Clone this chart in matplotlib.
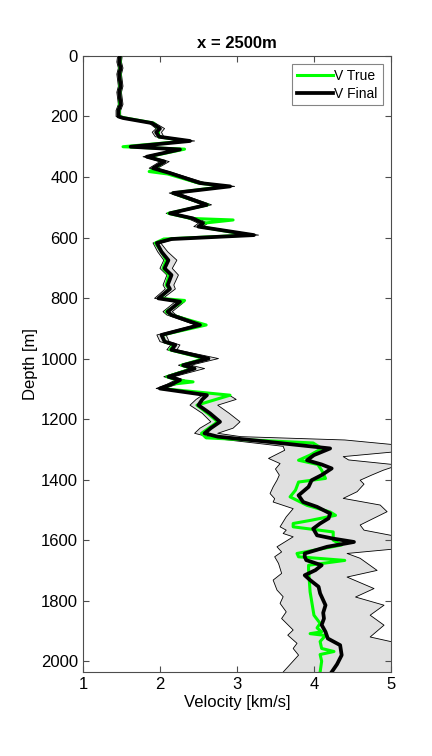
import matplotlib

matplotlib.use("Agg")
import matplotlib.pyplot as plt  # noqa: E402

plt.rcParams["font.family"] = ["Liberation Sans", "DejaVu Sans"]

# V Final ― 深度ノードと速度 [km/s]
depth = [0, 20, 40, 60, 80, 100, 120, 140, 160, 180, 200, 205, 222, 240, 252, 267,
         281, 300, 309, 333, 349, 371, 387, 420, 431, 453, 464, 492, 520, 537, 553,
         564, 592, 605, 618, 647, 675, 702, 724, 757, 770, 801, 812, 845, 856, 889,
         922, 944, 955, 971, 1000, 1022, 1033, 1060, 1071, 1085, 1099, 1121, 1135,
         1154, 1181, 1209, 1230, 1247, 1258, 1275, 1297, 1319, 1336, 1350, 1363,
         1385, 1402, 1424, 1452, 1474, 1490, 1512, 1528, 1545, 1562, 1584, 1595,
         1606, 1622, 1644, 1655, 1666, 1683, 1699, 1716, 1732, 1754, 1776, 1815,
         1840, 1859, 1880, 1903, 1925, 1947, 1980, 2010, 2036]
v_final = [1.48, 1.47, 1.49, 1.47, 1.48, 1.49, 1.47, 1.48, 1.49, 1.46, 1.46, 1.52,
           1.90, 2.00, 1.95, 1.99, 2.39, 1.62, 2.26, 1.83, 2.06, 1.91, 2.13, 2.52,
           2.91, 2.17, 2.30, 2.61, 2.13, 2.43, 2.56, 2.50, 3.22, 2.15, 1.96, 2.02,
           2.11, 2.06, 2.15, 2.10, 2.13, 1.98, 2.26, 2.10, 2.15, 2.52, 2.02, 2.06,
           2.20, 2.15, 2.63, 2.30, 2.45, 2.11, 2.26, 2.15, 2.00, 2.61, 2.55, 2.50,
           2.65, 2.78, 2.66, 2.58, 2.75, 3.40, 4.21, 4.00, 3.91, 4.10, 4.23, 4.10,
           3.97, 3.93, 3.80, 3.86, 4.04, 4.21, 4.19, 4.08, 3.99, 4.04, 4.25, 4.52,
           4.17, 3.88, 3.88, 3.90, 4.10, 4.02, 3.88, 3.95, 4.06, 4.08, 4.15, 4.12,
           4.13, 4.10, 4.15, 4.18, 4.34, 4.36, 4.30, 4.23]

# 不確かさの帯 ― 上限 (浅部は V Final に沿う)
depth_hi = depth[:65] + [1269, 1286, 1307, 1324, 1335, 1352, 1369, 1385, 1402,
                         1415, 1440, 1462, 1484, 1506, 1550, 1567, 1589, 1628,
                         1644, 1660, 1700, 1722, 1760, 1788, 1815, 1848, 1881,
                         1920, 1941, 2036]
v_high = [1.51, 1.50, 1.52, 1.50, 1.51, 1.52, 1.50, 1.51, 1.52, 1.49, 1.49, 1.56,
          1.94, 2.06, 2.02, 2.05, 2.45, 1.67, 2.31, 1.88, 2.12, 1.97, 2.18, 2.60,
          2.97, 2.23, 2.36, 2.67, 2.18, 2.50, 2.62, 2.56, 3.28, 2.20, 2.01, 2.10,
          2.22, 2.16, 2.24, 2.18, 2.20, 2.04, 2.32, 2.16, 2.21, 2.58, 2.08, 2.12,
          2.26, 2.22, 2.76, 2.40, 2.58, 2.18, 2.32, 2.22, 2.06, 2.90, 2.99, 2.75,
          2.90, 3.04, 2.95, 2.75, 3.05,
          4.40, 5.10, 5.10, 4.38, 4.45, 5.10, 4.90, 4.75, 4.60, 4.65, 4.56, 4.38,
          4.86, 4.95, 4.60, 4.65, 5.10, 5.10, 4.43, 4.60, 4.82, 4.43, 4.78, 4.54,
          4.91, 4.73, 4.91, 4.73, 5.10, 5.10]

# 不確かさの帯 ― 下限
depth_lo = depth[:65] + [1265, 1290, 1303, 1330, 1347, 1365, 1385, 1402, 1424,
                         1446, 1463, 1474, 1496, 1523, 1556, 1567, 1578, 1589,
                         1622, 1639, 1655, 1677, 1710, 1732, 1765, 1787, 1809,
                         1837, 1859, 1897, 1914, 1941, 1958, 1980, 2036]
v_low = [1.45, 1.44, 1.46, 1.44, 1.45, 1.46, 1.44, 1.45, 1.46, 1.43, 1.43, 1.48,
         1.86, 1.95, 1.90, 1.94, 2.33, 1.57, 2.20, 1.78, 2.00, 1.86, 2.08, 2.46,
         2.84, 2.12, 2.25, 2.55, 2.08, 2.36, 2.50, 2.44, 3.16, 2.10, 1.91, 1.97,
         2.05, 2.00, 2.09, 2.04, 2.07, 1.93, 2.20, 2.04, 2.09, 2.46, 1.96, 2.00,
         2.14, 2.09, 2.56, 2.24, 2.38, 2.05, 2.20, 2.09, 1.95, 2.55, 2.47, 2.39,
         2.55, 2.66, 2.52, 2.45, 2.62,
         2.75, 3.60, 3.62, 3.41, 3.56, 3.50, 3.55, 3.52, 3.47, 3.43, 3.49, 3.47,
         3.73, 3.64, 3.56, 3.64, 3.60, 3.73, 3.52, 3.58, 3.49, 3.54, 3.58, 3.47,
         3.52, 3.60, 3.56, 3.64, 3.58, 3.73, 3.66, 3.78, 3.73, 3.80, 3.60]

# V True ― 独自の深度ノード
depth_true = [0, 100, 200, 205, 222, 240, 267, 281, 300, 308, 333, 349, 375, 382,
              390, 420, 431, 453, 464, 492, 520, 537, 542, 553, 564, 592, 605, 618,
              647, 675, 702, 724, 757, 770, 801, 808, 845, 856, 889, 922, 944, 955,
              971, 1000, 1022, 1033, 1060, 1071, 1077, 1085, 1099, 1121, 1154, 1181,
              1209, 1247, 1262, 1279, 1297, 1319, 1336, 1350, 1369, 1396, 1408, 1435,
              1457, 1485, 1507, 1518, 1534, 1545, 1556, 1573, 1600, 1616, 1644, 1655,
              1667, 1683, 1699, 1771, 1848, 1875, 1890, 1903, 1909, 1915, 1935, 1958,
              1968, 1978, 2000, 2036]
v_true = [1.48, 1.48, 1.47, 1.55, 1.92, 1.98, 1.98, 2.35, 1.52, 2.32, 1.85, 2.05,
          1.92, 1.86, 2.10, 2.50, 2.85, 2.17, 2.28, 2.62, 2.11, 2.40, 2.95, 2.55,
          2.52, 3.15, 2.05, 1.94, 2.02, 2.08, 2.04, 2.12, 2.08, 2.12, 2.00, 2.32,
          2.08, 2.15, 2.60, 2.03, 2.06, 2.18, 2.13, 2.58, 2.28, 2.42, 2.09, 2.22,
          2.43, 2.15, 2.02, 2.91, 2.48, 2.62, 2.75, 2.54, 2.60, 3.99, 4.10, 3.95,
          3.80, 4.05, 4.10, 4.15, 3.80, 3.76, 3.69, 3.91, 4.21, 4.28, 3.97, 3.73,
          3.73, 4.25, 4.25, 4.36, 3.78, 3.80, 4.40, 3.93, 3.93, 3.95, 4.00, 4.08,
          4.04, 4.10, 3.95, 4.15, 4.08, 4.10, 4.26, 4.08, 4.10, 4.08]

x_ticks = [1, 2, 3, 4, 5]
y_ticks = [0, 200, 400, 600, 800, 1000, 1200, 1400, 1600, 1800, 2000]


def main():
    fig = plt.figure(figsize=(4.32, 7.56), dpi=100)
    ax = fig.add_axes([0.192, 0.111, 0.713, 0.815])

    # 帯: 上限を下向き、下限を上向きにたどった多角形として塗る
    poly_x = list(v_high) + list(v_low)[::-1]
    poly_y = list(depth_hi) + list(depth_lo)[::-1]
    ax.fill(poly_x, poly_y, color="0.88", lw=0, zorder=1)
    ax.plot(v_low, depth_lo, color="k", lw=0.6, zorder=2)
    ax.plot(v_high, depth_hi, color="k", lw=0.6, zorder=2)

    ax.plot(v_true, depth_true, color="#00ff00", lw=2.2, label="V True", zorder=3)
    ax.plot(v_final, depth, color="k", lw=2.7, label="V Final", zorder=4)

    ax.set_xlim(1, 5)
    ax.set_ylim(2036, 0)
    ax.set_xticks(x_ticks)
    ax.set_yticks(y_ticks)
    ax.tick_params(direction="in", top=True, right=True, labelsize=12,
                   length=4, color="0.3")
    for s in ax.spines.values():
        s.set_color("0.3")
        s.set_linewidth(0.8)
    ax.set_xlabel("Velocity [km/s]", fontsize=12, labelpad=2)
    ax.set_ylabel("Depth [m]", fontsize=12, labelpad=2)
    ax.set_title("x = 2500m", fontsize=12, fontweight="bold", pad=6)

    leg = ax.legend(loc="upper right", fontsize=10, fancybox=False,
                    handlelength=2.6, handletextpad=0.1, borderpad=0.35,
                    labelspacing=0.25, borderaxespad=0.6)
    leg.get_frame().set_edgecolor("0.4")
    leg.get_frame().set_linewidth(0.8)

    fig.savefig("out.png", dpi=100)
    plt.close(fig)


if __name__ == "__main__":
    main()
